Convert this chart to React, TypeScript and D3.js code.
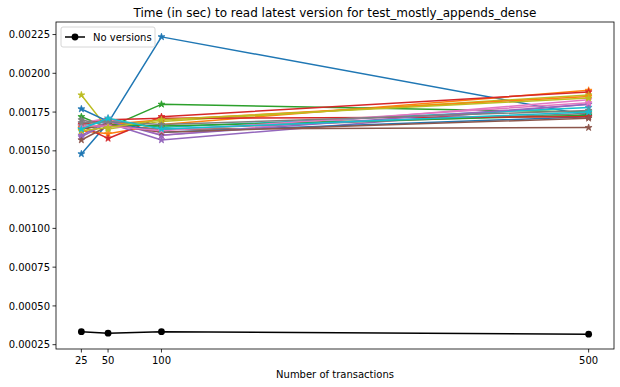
import React from "react";
import * as d3 from "d3";

const transactions = [25, 50, 100, 500];
const noVersions = [0.000334, 0.000324, 0.000334, 0.000318];

const palette = ["#1f77b4", "#ff7f0e", "#2ca02c", "#d62728", "#9467bd", "#8c564b", "#e377c2", "#7f7f7f", "#bcbd22", "#17becf"];

const s00 = [0.00148, 0.00168, 0.002235, 0.00173];
const s01 = [0.00163, 0.00161, 0.00167, 0.00189];
const s02 = [0.00172, 0.00165, 0.00180, 0.00175];
const s03 = [0.00166, 0.00158, 0.00172, 0.00188];
const s04 = [0.00159, 0.00168, 0.00157, 0.00180];
const s05 = [0.00157, 0.00166, 0.00164, 0.00165];
const s06 = [0.00168, 0.00171, 0.00160, 0.00183];
const s07 = [0.00170, 0.00166, 0.00164, 0.00174];
const s08 = [0.00186, 0.00164, 0.00169, 0.00186];
const s09 = [0.00166, 0.00169, 0.00165, 0.00178];
const s10 = [0.00177, 0.00169, 0.00162, 0.00172];
const s11 = [0.00165, 0.00167, 0.00170, 0.00185];
const s12 = [0.00164, 0.00167, 0.00166, 0.00173];
const s13 = [0.00167, 0.00170, 0.00171, 0.00172];
const s14 = [0.00160, 0.00169, 0.00160, 0.00180];
const s15 = [0.00164, 0.00167, 0.00162, 0.00171];
const s16 = [0.00166, 0.00166, 0.00163, 0.00181];
const s17 = [0.00168, 0.00169, 0.00167, 0.00176];
const s18 = [0.00163, 0.00165, 0.00170, 0.00184];
const s19 = [0.00164, 0.00171, 0.00164, 0.00175];
const versionSeries = [s00, s01, s02, s03, s04, s05, s06, s07, s08, s09, s10, s11, s12, s13, s14, s15, s16, s17, s18, s19];

const yTicks = [0.00025, 0.0005, 0.00075, 0.001, 0.00125, 0.0015, 0.00175, 0.002, 0.00225];
const title = "Time (in sec) to read latest version for test_mostly_appends_dense";
const xLabel = "Number of transactions";
const legendLabel = "No versions";

const W = 620, H = 387;
const left = 56, right = 614, top = 22, bottom = 349;

function starPath(cx: number, cy: number, ro: number) {
  const ri = ro * 0.381966;
  const pts: string[] = [];
  for (let i = 0; i < 10; i++) {
    const r = i % 2 === 0 ? ro : ri;
    const a = -Math.PI / 2 + (i * Math.PI) / 5;
    pts.push(`${(cx + r * Math.cos(a)).toFixed(2)},${(cy + r * Math.sin(a)).toFixed(2)}`);
  }
  return "M" + pts.join("L") + "Z";
}

export default function App() {
  const allVals = [...noVersions, ...versionSeries.flat()];
  const ymin = d3.min(allVals)!, ymax = d3.max(allVals)!;
  const yr = ymax - ymin;
  const xr = 500 - 25;
  const x = d3.scaleLinear().domain([25 - 0.05 * xr, 500 + 0.05 * xr]).range([left, right]);
  const y = d3.scaleLinear().domain([ymin - 0.05 * yr, ymax + 0.05 * yr]).range([bottom, top]);
  const line = d3.line<number>().x((_, i) => x(transactions[i])).y((d) => y(d));
  const font = "DejaVu Sans, sans-serif";

  return (
    <svg width={W} height={H} style={{ position: "absolute", left: 0, top: 0, background: "#fff" }} fontFamily={font}>
      <rect x={0} y={0} width={W} height={H} fill="#fff" />
      {versionSeries.map((s, k) => {
        const c = palette[k % 10];
        return (
          <g key={k}>
            <path d={line(s)!} fill="none" stroke={c} strokeWidth={1.5} strokeLinejoin="round" />
            {s.map((v, i) => (
              <path key={i} d={starPath(x(transactions[i]), y(v), 3.6)} fill={c} stroke={c} strokeWidth={0.8} />
            ))}
          </g>
        );
      })}
      <path d={line(noVersions)!} fill="none" stroke="#000" strokeWidth={1.5} />
      {noVersions.map((v, i) => (
        <circle key={i} cx={x(transactions[i])} cy={y(v)} r={3.4} fill="#000" />
      ))}
      <rect x={left} y={top} width={right - left} height={bottom - top} fill="none" stroke="#000" strokeWidth={0.8} />
      {transactions.map((t) => (
        <g key={t}>
          <line x1={x(t)} x2={x(t)} y1={bottom} y2={bottom + 3.5} stroke="#000" strokeWidth={0.8} />
          <text x={x(t)} y={bottom + 14.5} fontSize={10} textAnchor="middle" fill="#000">{t}</text>
        </g>
      ))}
      {yTicks.map((t) => (
        <g key={t}>
          <line x1={left - 3.5} x2={left} y1={y(t)} y2={y(t)} stroke="#000" strokeWidth={0.8} />
          <text x={left - 6} y={y(t) + 3.6} fontSize={10} textAnchor="end" fill="#000">{t.toFixed(5)}</text>
        </g>
      ))}
      <text x={(left + right) / 2} y={378} fontSize={10} textAnchor="middle" fill="#000">{xLabel}</text>
      <text x={(left + right) / 2} y={17} fontSize={12} textAnchor="middle" fill="#000">{title}</text>
      <g>
        <rect x={61} y={27} width={94} height={20} rx={2} fill="#fff" fillOpacity={0.8} stroke="#ccc" strokeWidth={0.8} />
        <line x1={65} x2={85} y1={37} y2={37} stroke="#000" strokeWidth={1.5} />
        <circle cx={75} cy={37} r={3.4} fill="#000" />
        <text x={93} y={40.5} fontSize={10} fill="#000">{legendLabel}</text>
      </g>
    </svg>
  );
}
